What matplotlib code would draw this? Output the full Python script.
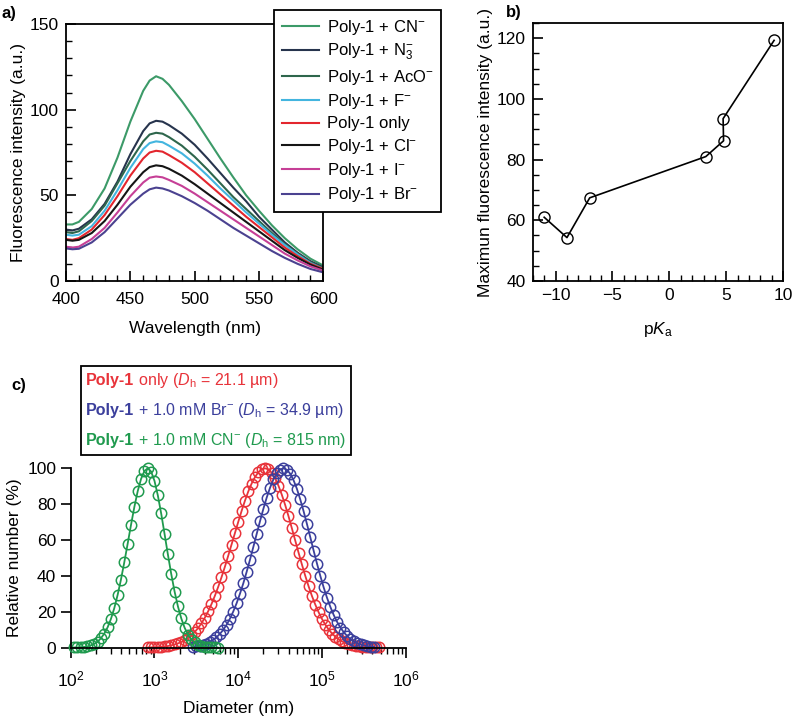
# -*- coding: utf-8 -*-
# Three-panel figure: emission spectra (a), peak intensity vs pKa (b), DLS size distributions (c)

import numpy as np
import matplotlib
matplotlib.use('Agg')
import matplotlib.pyplot as plt
from matplotlib.ticker import MultipleLocator, LogLocator, NullFormatter
from matplotlib.offsetbox import TextArea, HPacker, VPacker, AnchoredOffsetbox

plt.rcParams['font.family'] = ['Liberation Sans', 'DejaVu Sans']
plt.rcParams['mathtext.fontset'] = 'custom'
plt.rcParams['mathtext.rm'] = 'Liberation Sans'
plt.rcParams['mathtext.it'] = 'Liberation Sans:italic'
plt.rcParams['mathtext.bf'] = 'Liberation Sans:bold'

FS = 12.5

########################## panel a data #############################
wavelength = [400, 405, 410, 420, 430, 440, 450, 460, 465, 470, 475, 480, 490,
              500, 510, 520, 530, 540, 550, 560, 570, 580, 590, 600]

fl_cn  = [33, 33, 34.5, 42, 54, 72, 93, 111, 117, 119.5, 118, 114.5, 105,
          94.5, 83, 71.5, 60.5, 50, 41, 32.5, 25, 18.5, 13, 9]
fl_n3  = [30, 29.5, 30.5, 36, 45, 58, 74, 87.5, 92, 93.5, 93, 91, 86,
          79.5, 71.5, 63, 54.5, 46.5, 37.5, 30, 22.5, 16.5, 11.5, 8]
fl_aco = [28.5, 28, 29, 35, 44, 57, 70, 81.5, 85.5, 86.5, 86, 84, 79,
          72.5, 65, 57, 49, 42, 35, 28, 21.5, 16, 11, 7.5]
fl_f   = [27, 26.5, 27, 32, 41, 53, 66, 77, 80.5, 81.5, 81, 79, 74.5,
          68.5, 61.5, 54, 47, 40, 33.5, 27, 21, 15.5, 10.5, 7]
fl_only = [24.5, 24, 25, 30, 38.5, 49.5, 61.5, 71.5, 75, 76, 75.5, 73.5, 69,
           63.5, 57, 50.5, 44, 37.5, 31.5, 25.5, 19.5, 14.5, 10, 7]
fl_cl  = [24, 23.5, 24, 28, 35, 44.5, 55, 63.5, 66.5, 67.5, 67, 65.5, 61.5,
          56.5, 51, 45.5, 40, 34.5, 29, 23.5, 18, 13.5, 9.5, 6.5]
fl_i   = [20, 19.5, 20, 24.5, 31, 40, 49.5, 57.5, 60.3, 61, 60.5, 59, 55.5,
          51, 46, 41, 36, 31, 26, 21, 16, 12, 8.5, 6]
fl_br  = [19, 18.5, 18.8, 22.5, 28.5, 36.5, 44.5, 51, 53.5, 54.5, 54, 52.8, 49.5,
          45.5, 41, 36, 31, 26.5, 22, 17.5, 13.5, 10, 7, 5]

labels_a = [r'Poly-1 + CN$^{-}$', r'Poly-1 + N$_3^{-}$', r'Poly-1 + AcO$^{-}$',
            r'Poly-1 + F$^{-}$', 'Poly-1 only', r'Poly-1 + Cl$^{-}$',
            r'Poly-1 + I$^{-}$', r'Poly-1 + Br$^{-}$']
colors_a = ['#3c9a68', '#27344d', '#2e664c', '#43b5df', '#e3262e', '#151515', '#c63f96', '#4b4290']

########################## panel b data #############################
pka = [-11, -9, -7, 3.2, 4.76, 4.72, 9.2]
max_int = [61.0, 54.3, 67.4, 81.0, 86.2, 93.5, 119.3]

########################## panel c data #############################
logd_cn = [2.04, 2.08, 2.12, 2.16, 2.20, 2.24, 2.28, 2.32, 2.36, 2.40, 2.44, 2.48,
           2.52, 2.56, 2.60, 2.64, 2.68, 2.72, 2.76, 2.80, 2.84, 2.88, 2.92, 2.96,
           3.00, 3.04, 3.08, 3.12, 3.16, 3.20, 3.24, 3.28, 3.32, 3.36, 3.40, 3.44,
           3.48, 3.52, 3.56, 3.60, 3.64, 3.68, 3.72, 3.76]
num_cn = [0.1, 0.1, 0.2, 0.4, 0.7, 1.3, 2.1, 3.3, 5.2, 7.8, 11.3, 16.0, 22.0,
          29.4, 38.0, 47.7, 58.0, 68.5, 78.5, 87.3, 94.1, 98.5, 100, 98.2, 93.0,
          84.9, 74.8, 63.5, 52.0, 41.1, 31.3, 23.0, 16.3, 11.1, 7.3, 4.7, 2.9,
          1.7, 1.0, 0.5, 0.3, 0.1, 0.1, 0.0]

logd_only = [2.92, 2.96, 3.00, 3.04, 3.08, 3.12, 3.16, 3.20, 3.24, 3.28, 3.32, 3.36,
             3.40, 3.44, 3.48, 3.52, 3.56, 3.60, 3.64, 3.68, 3.72, 3.76, 3.80, 3.84,
             3.88, 3.92, 3.96, 4.00, 4.04, 4.08, 4.12, 4.16, 4.20, 4.24, 4.28, 4.32,
             4.36, 4.40, 4.44, 4.48, 4.52, 4.56, 4.60, 4.64, 4.68, 4.72, 4.76, 4.80,
             4.84, 4.88, 4.92, 4.96, 5.00, 5.04, 5.08, 5.12, 5.16, 5.20, 5.24, 5.28,
             5.32, 5.36, 5.40, 5.44, 5.48, 5.52, 5.56, 5.60, 5.64, 5.68]
num_only = [0.1, 0.2, 0.2, 0.3, 0.5, 0.7, 0.9, 1.3, 1.8, 2.4, 3.1, 4.1, 5.3, 6.8,
            8.7, 10.9, 13.5, 16.6, 20.2, 24.2, 28.8, 33.8, 39.2, 45.0, 51.2, 57.5,
            63.8, 70.1, 76.2, 81.9, 87.1, 91.5, 95.1, 97.8, 99.4, 100, 99.4, 97.5,
            94.4, 90.3, 85.3, 79.6, 73.3, 66.6, 59.8, 53.0, 46.4, 40.1, 34.2, 28.8,
            24.0, 19.7, 16.0, 12.8, 10.1, 7.9, 6.1, 4.6, 3.5, 2.6, 1.9, 1.4, 1.0,
            0.7, 0.5, 0.3, 0.2, 0.2, 0.1, 0.1]

logd_br = [3.46, 3.50, 3.54, 3.58, 3.62, 3.66, 3.70, 3.74, 3.78, 3.82, 3.86, 3.90,
           3.94, 3.98, 4.02, 4.06, 4.10, 4.14, 4.18, 4.22, 4.26, 4.30, 4.34, 4.38,
           4.42, 4.46, 4.50, 4.54, 4.58, 4.62, 4.66, 4.70, 4.74, 4.78, 4.82, 4.86,
           4.90, 4.94, 4.98, 5.02, 5.06, 5.10, 5.14, 5.18, 5.22, 5.26, 5.30, 5.34,
           5.38, 5.42, 5.46, 5.50, 5.54, 5.58, 5.62]
num_br = [0.6, 0.8, 1.2, 1.6, 2.3, 3.2, 4.3, 5.8, 7.6, 9.9, 12.7, 16.1, 20.1, 24.7,
          30.0, 35.8, 42.2, 49.0, 56.1, 63.4, 70.5, 77.4, 83.7, 89.2, 93.8, 97.2,
          99.3, 100, 99.2, 97.0, 93.4, 88.6, 82.7, 76.1, 69.0, 61.6, 54.1, 46.9,
          40.0, 33.6, 27.8, 22.7, 18.2, 14.4, 11.2, 8.6, 6.5, 4.8, 3.5, 2.6, 1.8,
          1.3, 0.9, 0.6, 0.4]

red_c = '#e8333a'
blue_c = '#3b3f9c'
green_c = '#1f9a4e'

fig = plt.figure(figsize=(8, 7.21), dpi=100)

######################## a) spectra ########################
ax_a = fig.add_axes([0.0825, 0.6103, 0.3217, 0.3564])
series_a = [fl_cn, fl_n3, fl_aco, fl_f, fl_only, fl_cl, fl_i, fl_br]
for ys, lab, col in zip(series_a, labels_a, colors_a):
    ax_a.plot(wavelength, ys, color=col, lw=1.5, label=lab)
ax_a.set_xlim(400, 600)
ax_a.set_ylim(0, 150)
ax_a.xaxis.set_major_locator(MultipleLocator(50))
ax_a.xaxis.set_minor_locator(MultipleLocator(10))
ax_a.yaxis.set_major_locator(MultipleLocator(50))
ax_a.yaxis.set_minor_locator(MultipleLocator(10))
ax_a.set_xlabel('Wavelength (nm)', fontsize=FS, labelpad=10)
ax_a.set_ylabel('Fluorescence intensity (a.u.)', fontsize=FS, labelpad=3)
leg = ax_a.legend(loc='upper left', bbox_to_anchor=(0.343, 0.986), bbox_transform=fig.transFigure,
                  fancybox=False, framealpha=1, edgecolor='black', handlelength=2.2,
                  handletextpad=0.5, labelspacing=0.32, borderpad=0.45, borderaxespad=0,
                  fontsize=12)
leg.get_frame().set_linewidth(1.3)

######################## b) max intensity vs pKa ########################
ax_b = fig.add_axes([0.666, 0.6103, 0.313, 0.3577])
ax_b.plot(pka, max_int, color='black', lw=1.2, marker='o', ms=8,
          mfc='none', mec='black', mew=1.0)
ax_b.set_xlim(-12, 10)
ax_b.set_ylim(40, 125)
ax_b.xaxis.set_major_locator(MultipleLocator(5))
ax_b.xaxis.set_minor_locator(MultipleLocator(1))
ax_b.yaxis.set_major_locator(MultipleLocator(20))
ax_b.yaxis.set_minor_locator(MultipleLocator(5))
ax_b.set_xlabel(r'p$K_\mathrm{a}$', fontsize=FS, labelpad=12)
ax_b.set_ylabel('Maximun fluorescence intensity (a.u.)', fontsize=FS, labelpad=3)

for ax in (ax_a, ax_b):
    ax.tick_params(which='both', direction='in', top=False, right=False, labelsize=FS)
    ax.tick_params(which='major', length=7, width=1.2, pad=5)
    ax.tick_params(which='minor', length=4, width=1.0)
    for s in ax.spines.values():
        s.set_linewidth(1.3)
ax_a.tick_params(axis='x', which='major', pad=8)

######################## c) DLS ########################
ax_c = fig.add_axes([0.0884, 0.1017, 0.4188, 0.2488])
for lx, ys, col in [(logd_only, num_only, red_c), (logd_br, num_br, blue_c), (logd_cn, num_cn, green_c)]:
    ax_c.plot(10 ** np.array(lx), ys, color=col, lw=1.3, marker='o', ms=7.5,
              mfc='none', mec=col, mew=1.1, clip_on=False)
ax_c.set_xscale('log')
ax_c.set_xlim(1e2, 1e6)
ax_c.set_ylim(0, 100)
ax_c.yaxis.set_major_locator(MultipleLocator(20))
ax_c.xaxis.set_major_locator(LogLocator(base=10, numticks=10))
ax_c.xaxis.set_minor_locator(LogLocator(base=10, subs=np.arange(2, 10), numticks=20))
ax_c.xaxis.set_minor_formatter(NullFormatter())
ax_c.spines['top'].set_visible(False)
ax_c.spines['right'].set_visible(False)
for s in ('left', 'bottom'):
    ax_c.spines[s].set_linewidth(1.3)
ax_c.tick_params(which='both', direction='out', labelsize=FS)
ax_c.tick_params(which='major', length=7, width=1.2)
ax_c.tick_params(which='minor', length=4, width=1.0)
ax_c.tick_params(axis='x', which='major', pad=9)
ax_c.set_xlabel('Diameter (nm)', fontsize=FS, labelpad=8)
ax_c.set_ylabel('Relative number (%)', fontsize=FS, labelpad=4)

# legend box of panel c: bold "Poly-1" followed by normal text, all in the line colour
parts_c = [(' only ($D_\\mathrm{h}$ = 21.1 µm)', red_c),
           (' + 1.0 mM Br$^{-}$ ($D_\\mathrm{h}$ = 34.9 µm)', blue_c),
           (' + 1.0 mM CN$^{-}$ ($D_\\mathrm{h}$ = 815 nm)', green_c)]
rows = []
for txt, col in parts_c:
    head = TextArea('Poly-1', textprops=dict(color=col, fontweight='bold', fontsize=11.5))
    tail = TextArea(txt, textprops=dict(color=col, fontsize=11.5))
    rows.append(HPacker(children=[head, tail], align='baseline', pad=0, sep=0))
box = VPacker(children=rows, align='left', pad=0, sep=8)
anch = AnchoredOffsetbox(loc='upper left', child=box, pad=0.35, borderpad=0, frameon=True,
                         bbox_to_anchor=(0.101, 0.4924), bbox_transform=fig.transFigure)
anch.patch.set_edgecolor('black')
anch.patch.set_linewidth(1.3)
anch.patch.set_boxstyle('square', pad=0)
fig.add_artist(anch)

# panel letters
fig.text(0.002, 0.981, 'a)', fontweight='bold', fontsize=12, va='center')
fig.text(0.632, 0.983, 'b)', fontweight='bold', fontsize=12, va='center')
fig.text(0.014, 0.466, 'c)', fontweight='bold', fontsize=12, va='center')

fig.savefig('out.png', dpi=100)
